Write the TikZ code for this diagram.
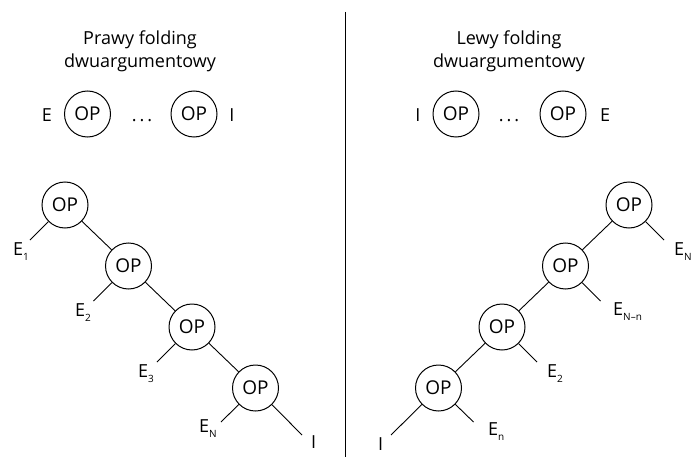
\documentclass[tikz,border=0pt]{standalone}
\usepackage{fontspec}
\setmainfont{Open Sans}
\newcommand\subx[1]{\raisebox{-5pt}{\fontsize{10}{10}\selectfont #1}}
\begin{document}
\begin{tikzpicture}[x=1pt,y=-1pt,
  op/.style={circle,draw,line width=1pt,minimum size=46pt,inner sep=0pt,font=\fontsize{19}{19}\selectfont},
  lbl/.style={anchor=base west,inner sep=0pt,font=\fontsize{18}{18}\selectfont},
  txt/.style={anchor=base,inner sep=0pt,font=\fontsize{18}{18}\selectfont},
  edge/.style={line width=0.9pt}]
\useasboundingbox (0,0) rectangle (692,457);
% divider
\coordinate (dtop) at (345,12);
\coordinate (dbot) at (345,457);
\draw[line width=1pt] (dtop) -- (dbot);
% titles
\node[txt] (t1a) at (140,45) {Prawy folding};
\node[txt] (t1b) at (140,68) {dwuargumentowy};
\node[txt] (t2a) at (509,45) {Lewy folding};
\node[txt] (t2b) at (509,68) {dwuargumentowy};
% top rows
\node[txt] (rE) at (47,122) {E};
\node[op] (r1) at (87.5,114) {OP};
\node[txt] (rd) at (142,122) {.\hspace{3pt}.\hspace{3pt}.};
\node[op] (r2) at (194,114) {OP};
\node[txt] (rI) at (232,122) {I};
\node[txt] (sI) at (418,122) {I};
\node[op] (s1) at (456,114) {OP};
\node[txt] (sd) at (509,122) {.\hspace{3pt}.\hspace{3pt}.};
\node[op] (s2) at (563,114) {OP};
\node[txt] (sE) at (605,122) {E};
% left tree
\node[op] (a1) at (65,205) {OP};
\node[op] (a2) at (128.5,266) {OP};
\node[op] (a3) at (192,327) {OP};
\node[op] (a4) at (255.5,388) {OP};
\draw[edge] (a1) -- (a2);
\draw[edge] (a2) -- (a3);
\draw[edge] (a3) -- (a4);
\coordinate (la1) at (30,240);
\coordinate (la2) at (93.5,301);
\coordinate (la3) at (157,362);
\coordinate (la4) at (221,422);
\coordinate (la5) at (302,435);
\draw[edge] (a1) -- (la1);
\draw[edge] (a2) -- (la2);
\draw[edge] (a3) -- (la3);
\draw[edge] (a4) -- (la4);
\draw[edge] (a4) -- (la5);
\node[lbl] (e1) at (13,255) {E\subx{1}};
\node[lbl] (e2) at (75,316) {E\subx{2}};
\node[lbl] (e3) at (138,377) {E\subx{3}};
\node[lbl] (e4) at (199,432) {E\subx{N}};
\node[lbl] (eI) at (311,448) {I};
% right tree
\node[op] (b1) at (629,205) {OP};
\node[op] (b2) at (565.5,266) {OP};
\node[op] (b3) at (502,327) {OP};
\node[op] (b4) at (438.5,388) {OP};
\draw[edge] (b1) -- (b2);
\draw[edge] (b2) -- (b3);
\draw[edge] (b3) -- (b4);
\coordinate (lb1) at (664,240);
\coordinate (lb2) at (600.5,301);
\coordinate (lb3) at (537,362);
\coordinate (lb4) at (473.5,422);
\coordinate (lb5) at (391,435);
\draw[edge] (b1) -- (lb1);
\draw[edge] (b2) -- (lb2);
\draw[edge] (b3) -- (lb3);
\draw[edge] (b4) -- (lb4);
\draw[edge] (b4) -- (lb5);
\node[lbl] (f1) at (674,255) {E\subx{N}};
\node[lbl] (f2) at (613,315) {E\subx{N–n}};
\node[lbl] (f3) at (547,377) {E\subx{2}};
\node[lbl] (f4) at (488,435) {E\subx{n}};
\node[lbl] (fI) at (378,450) {I};
\end{tikzpicture}
\end{document}
